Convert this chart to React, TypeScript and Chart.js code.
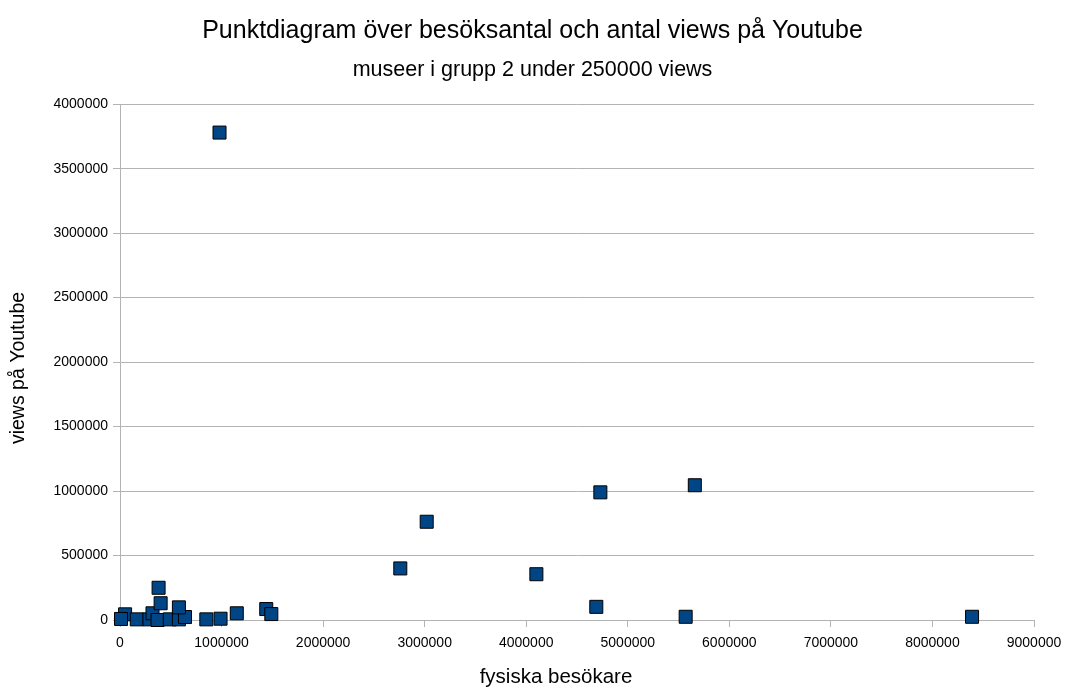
import React, { useEffect, useRef } from "react";
import { Chart, registerables } from "chart.js";

Chart.register(...registerables);

const chartTitle = "Punktdiagram över besöksantal och antal views på Youtube";
const chartSubtitle = "museer i grupp 2 under 250000 views";
const xAxisTitle = "fysiska besökare";
const yAxisTitle = "views på Youtube";

// fysiska besökare
const visitors: number[] = [
  50000, 10000, 165000, 290000, 320000, 370000, 490000, 580000, 640000,
  850000, 990000, 380000, 400000, 580000, 1150000, 1440000, 1490000,
  980000, 2760000, 3020000, 4100000, 4690000, 4730000, 5570000, 5660000, 8390000,
];
// views på Youtube
const views: number[] = [
  44000, 8000, 5000, 5000, 52000, 0, 5000, 5000, 23000,
  5000, 10000, 250000, 130000, 98000, 52000, 85000, 46000,
  3780000, 400000, 762000, 355000, 102000, 990000, 25000, 1045000, 25000,
];

const xTicks = { min: 0, max: 9000000, step: 1000000 };
const yTicks = { min: 0, max: 4000000, step: 500000 };

const FONT = "'Liberation Sans', Arial, sans-serif";

const axisTitlePlugin = {
  id: "axisTitles",
  afterDraw(chart: any) {
    const ctx = chart.ctx;
    ctx.save();
    ctx.fillStyle = "#000";
    ctx.textAlign = "center";
    ctx.textBaseline = "alphabetic";
    ctx.font = `20.5px ${FONT}`;
    ctx.fillText(xAxisTitle, 556, 683);
    ctx.translate(24, 368);
    ctx.rotate(-Math.PI / 2);
    ctx.font = `19.5px ${FONT}`;
    ctx.fillText(yAxisTitle, 0, 0);
    ctx.restore();
  },
};

export default function App() {
  const ref = useRef<HTMLCanvasElement | null>(null);
  useEffect(() => {
    if (!ref.current) return;
    Chart.defaults.font.family = FONT;
    Chart.defaults.color = "#000";
    const points = visitors.map((x, i) => ({ x, y: views[i] }));
    const chart = new Chart(ref.current, {
      type: "scatter",
      data: {
        datasets: [
          {
            data: points,
            clip: false,
            pointStyle: "rect",
            pointRadius: 9.2,
            pointHoverRadius: 9.2,
            backgroundColor: "#004586",
            borderColor: "#000000",
            borderWidth: 1,
          },
        ],
      },
      options: {
        animation: false,
        responsive: true,
        maintainAspectRatio: false,
        layout: { padding: 0 },
        plugins: {
          legend: { display: false },
          tooltip: { enabled: false },
          title: {
            display: true,
            text: chartTitle,
            font: { size: 25, weight: "normal" },
            color: "#000",
            padding: { top: 16, bottom: 5 },
          },
          subtitle: {
            display: true,
            text: chartSubtitle,
            font: { size: 21.5, weight: "normal" },
            color: "#000",
            padding: { top: 6, bottom: 21.4 },
          },
        },
        scales: {
          x: {
            type: "linear",
            min: xTicks.min,
            max: xTicks.max,
            afterFit: (s: any) => {
              s.height = 68;
              s.paddingRight = 31;
            },
            ticks: {
              stepSize: xTicks.step,
              padding: 8,
              font: { size: 14 },
              color: "#000",
              callback: (v: any) => String(v),
              maxRotation: 0,
            },
            grid: {
              drawOnChartArea: false,
              drawTicks: true,
              tickLength: 7,
              color: "#b3b3b3",
            },
            border: { display: true, color: "#b3b3b3" },
            title: { display: false },
          },
          y: {
            type: "linear",
            min: yTicks.min,
            max: yTicks.max,
            afterFit: (s: any) => {
              s.width = 120;
            },
            ticks: {
              stepSize: yTicks.step,
              padding: 5,
              font: { size: 14 },
              color: "#000",
              callback: (v: any) => String(v),
            },
            grid: {
              color: "#b3b3b3",
              drawTicks: true,
              tickLength: 7,
            },
            border: { display: true, color: "#b3b3b3" },
            title: { display: false },
          },
        },
      },
      plugins: [axisTitlePlugin],
    });
    return () => chart.destroy();
  }, []);
  return (
    <div style={{ position: "fixed", left: 0, top: 0, width: 1065, height: 688, background: "#fff" }}>
      <canvas ref={ref} />
    </div>
  );
}
